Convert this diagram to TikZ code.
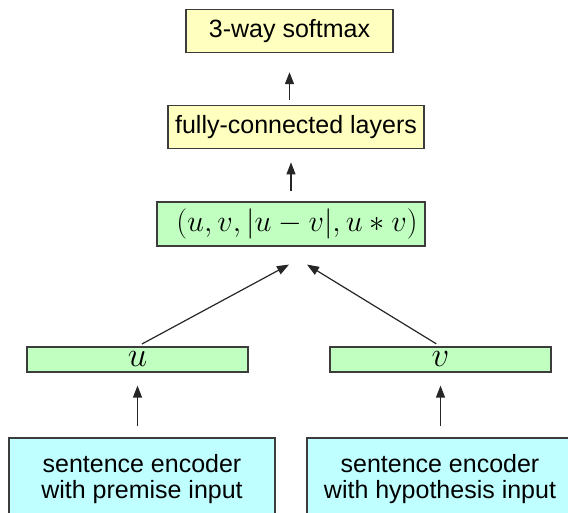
\documentclass[tikz,border=0pt]{standalone}
\usepackage{amsmath}
\usepackage{graphicx}
\usepackage{fontspec}
\setmainfont{Liberation Sans}
\usetikzlibrary{calc,chains,arrows,arrows.meta,positioning}

\definecolor{headyellow}{RGB}{255,255,192}
\definecolor{vecgreen}{RGB}{192,255,192}
\definecolor{enccyan}{RGB}{192,255,255}
\definecolor{boxline}{RGB}{60,60,60}
\newcommand{\bigmath}[2]{\scalebox{#1}{\fontsize{24.88}{25}\selectfont$#2$}}

\begin{document}
\begin{tikzpicture}[x=1pt, y=1pt,
    box/.style={rectangle, draw=boxline, line width=1.2pt, inner sep=0pt, minimum height=43pt, font=\fontsize{25}{26}\selectfont},
    head/.style={box, fill=headyellow},
    vec/.style={box, fill=vecgreen},
    enc/.style={box, fill=enccyan, align=center, minimum width=266pt, minimum height=82pt},
    link/.style={->, line width=1.2pt, draw=black!85},
    >={Triangle[length=12pt,width=9pt]}, node distance=52pt]
    \useasboundingbox (0,0) rectangle (568,512);
    \clip (0,0) rectangle (568,512);
    % encoders, cut by the lower edge
    \node[enc] (encp) at (142,33) {sentence encoder\\with premise input};
    \node[enc] (ench) at (440,33) {sentence encoder\\with hypothesis input};
    % sentence vectors
    \node[vec, minimum width=221pt, minimum height=25pt] (u) at (137.5,152.5) {\bigmath{1.4}{u}};
    \node[vec, minimum width=221pt, minimum height=25pt] (v) at (440.5,152.5) {\bigmath{1.4}{v}};
    \node[vec, minimum width=268pt, minimum height=44pt] (pair) at (291,288) {\hspace{12pt}\bigmath{1.22}{(u, v, |u-v|, u*v)}};
    \begin{scope}[start chain=mid going above]
        \chainin (pair);
        \node[head, on chain, minimum width=256pt, xshift=5pt] (fc) {fully-connected layers};
        \node[head, on chain, minimum width=207pt, xshift=-6.5pt] (soft) {3-way softmax};
    \end{scope}
    \coordinate (tipl) at ($(pair.south)+(-2,-18)$);
    \coordinate (tipr) at ($(pair.south)+(16,-18)$);
    \draw[link, shorten <=11pt, shorten >=13pt] (encp.north -| u) -- (u.south);
    \draw[link, shorten <=11pt, shorten >=13pt] (ench.north -| v) -- (v.south);
    \draw[link, shorten <=5pt] (u.north) -- (tipl);
    \draw[link, shorten <=5pt] (v.north) -- (tipr);
    \draw[link, shorten <=10pt, shorten >=13pt] (pair.north) -- (pair.north |- fc.south);
    \draw[link, shorten <=5pt, shorten >=19pt] (fc.north -| soft) -- (soft.south);
\end{tikzpicture}
\end{document}
